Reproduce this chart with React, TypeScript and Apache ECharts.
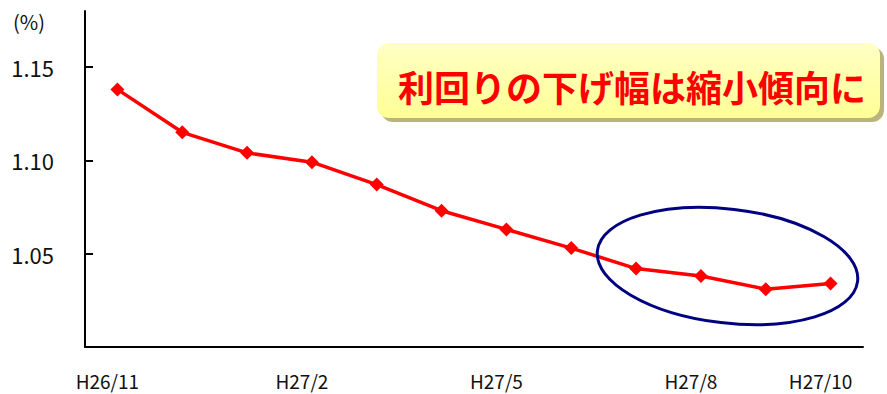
import React, { useEffect, useRef } from "react";
import * as echarts from "echarts";

// Monthly yield (%) from H26/11 to H27/10
const months = [
  "H26/11", "H26/12", "H27/1", "H27/2", "H27/3", "H27/4",
  "H27/5", "H27/6", "H27/7", "H27/8", "H27/9", "H27/10",
];
const yieldValues = [
  1.138, 1.115, 1.104, 1.099, 1.087, 1.073,
  1.063, 1.053, 1.042, 1.038, 1.031, 1.034,
];
const yTicks = [1.05, 1.1, 1.15];
const labelledMonths = ["H26/11", "H27/2", "H27/5", "H27/8", "H27/10"];
const unitLabel = "(%)";
const calloutText = "利回りの下げ幅は縮小傾向に";

const FONT = "'Noto Sans CJK JP', 'Noto Sans', sans-serif";

export default function App() {
  const ref = useRef<HTMLDivElement>(null);

  useEffect(() => {
    if (!ref.current) return;
    const chart = echarts.init(ref.current, undefined, { renderer: "svg" });

    chart.setOption({
      animation: false,
      backgroundColor: "#ffffff",
      grid: { left: 85, right: 24, top: 11, bottom: 47 },
      xAxis: {
        type: "category",
        data: months,
        boundaryGap: true,
        axisLine: { lineStyle: { color: "#000", width: 2 } },
        axisTick: { show: false },
        axisLabel: {
          interval: (i: number, v: string) => labelledMonths.includes(v),
          color: "#111",
          fontFamily: FONT,
          fontSize: 19,
          lineHeight: 20,
          margin: 23,
          padding: [0, 20, 0, 0],
        },
        splitLine: { show: false },
      },
      yAxis: {
        type: "value",
        min: 1.0,
        max: 1.18,
        interval: 0.05,
        axisLine: { show: true, lineStyle: { color: "#000", width: 2 } },
        axisTick: {
          show: true,
          inside: true,
          length: 8,
          customValues: yTicks,
          lineStyle: { color: "#000", width: 2 },
        },
        axisLabel: {
          customValues: yTicks,
          formatter: (v: number) => v.toFixed(2),
          color: "#111",
          fontFamily: FONT,
          fontSize: 22,
          margin: 31,
        },
        splitLine: { show: false },
      },
      series: [
        {
          type: "line",
          data: yieldValues,
          symbol: "diamond",
          symbolSize: 14,
          lineStyle: { color: "#ff0000", width: 3.5 },
          itemStyle: { color: "#ff0000" },
          z: 3,
        },
      ],
      graphic: [
        {
          type: "text",
          x: 13,
          y: 11,
          style: {
            text: unitLabel,
            fontFamily: FONT,
            fontSize: 20,
            fill: "#111",
          },
        },
        // callout shadow
        {
          type: "rect",
          shape: { x: 381, y: 47, width: 503, height: 75, r: 12 },
          style: { fill: "#b8b47a" },
          z: 10,
        },
        // callout box
        {
          type: "rect",
          shape: { x: 377, y: 43, width: 503, height: 75, r: 12 },
          style: {
            fill: new echarts.graphic.LinearGradient(0, 0, 0, 1, [
              { offset: 0, color: "#ffffc4" },
              { offset: 1, color: "#ffff96" },
            ]),
          },
          z: 11,
        },
        {
          type: "text",
          x: 632,
          y: 86,
          style: {
            text: calloutText,
            fontFamily: FONT,
            fontSize: 36,
            fontWeight: "bold",
            fill: "#ff0000",
            align: "center",
            verticalAlign: "middle",
          },
          z: 12,
        },
        // highlight ellipse around the latest months
        {
          type: "ellipse",
          x: 727.5,
          y: 266,
          rotation: (-6.7 * Math.PI) / 180,
          shape: { cx: 0, cy: 0, rx: 131, ry: 57 },
          style: { fill: "none", stroke: "#000080", lineWidth: 3 },
          z: 12,
        },
      ],
    });

    return () => chart.dispose();
  }, []);

  return (
    <div
      ref={ref}
      style={{ position: "fixed", left: 0, top: 0, width: 887, height: 394 }}
    />
  );
}
